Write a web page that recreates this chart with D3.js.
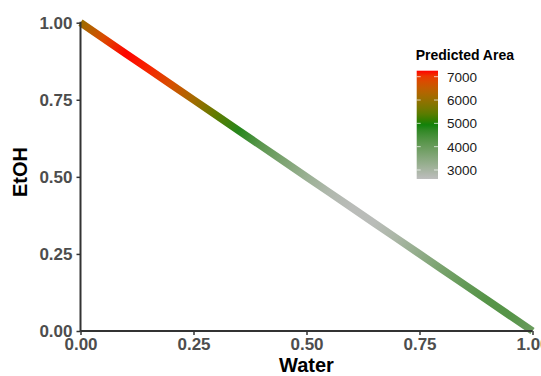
<!DOCTYPE html>
<html>
<head>
<meta charset="utf-8">
<script src="https://cdn.jsdelivr.net/npm/d3@7"></script>
<style>
  html, body { margin: 0; padding: 0; background: #fff; }
  svg { display: block; }
  text { font-family: "Liberation Sans", Arial, sans-serif; }
</style>
</head>
<body>
<svg id="chart" width="541" height="376"></svg>
<script>
// ---- data ----
const water = [0.00, 0.05, 0.10, 0.15, 0.20, 0.25, 0.30, 0.35, 0.40, 0.45, 0.50,
               0.55, 0.60, 0.65, 0.70, 0.75, 0.80, 0.85, 0.90, 0.95, 1.00];
const predictedArea = [6050, 6800, 7250, 7150, 6750, 6150, 5450, 4800, 4150, 3650, 3200,
                       2850, 2680, 2700, 2950, 3350, 3750, 4050, 4250, 4250, 3950];
const axisTicks = [0, 0.25, 0.5, 0.75, 1];
const axisTickLabels = ["0.00", "0.25", "0.50", "0.75", "1.00"];
const legendTicks = [3000, 4000, 5000, 6000, 7000];
const colourStops = [2614, 5000, 7257];
const colourRange = ["#bebebe", "#008000", "#ff0000"];

// ---- layout ----
const svg = d3.select("#chart");
const x = d3.scaleLinear().domain([0, 1]).range([80.5, 532.5]);
const y = d3.scaleLinear().domain([0, 1]).range([331, 22.7]);
const colour = d3.scaleLinear().domain(colourStops).range(colourRange).interpolate(d3.interpolateLab);

const defs = svg.append("defs");

// gradient along the mixture line
const lineGrad = defs.append("linearGradient")
  .attr("id", "lineGrad")
  .attr("gradientUnits", "userSpaceOnUse")
  .attr("x1", x(0)).attr("y1", y(1))
  .attr("x2", x(1)).attr("y2", y(0));
lineGrad.selectAll("stop").data(water).join("stop")
  .attr("offset", d => d)
  .attr("stop-color", (d, i) => colour(predictedArea[i]));

// line: EtOH = 1 - Water
const pts = water.map(w => [x(w), y(1 - w)]);
svg.append("path")
  .attr("d", d3.line()(pts))
  .attr("fill", "none")
  .attr("stroke", "url(#lineGrad)")
  .attr("stroke-width", 7.5)
  .attr("stroke-linecap", "butt");

// axes
const axisColour = "#333333";
const xAxis = d3.axisBottom(x).tickValues(axisTicks)
  .tickFormat((d, i) => axisTickLabels[i]).tickSize(4).tickPadding(3);
const yAxis = d3.axisLeft(y).tickValues(axisTicks)
  .tickFormat((d, i) => axisTickLabels[i]).tickSize(4).tickPadding(4);

const gx = svg.append("g").attr("transform", `translate(0,${y(0)})`).call(xAxis);
const gy = svg.append("g").attr("transform", `translate(${x(0)},0)`).call(yAxis);
[gx, gy].forEach(g => {
  g.select(".domain").attr("stroke", axisColour).attr("stroke-width", 2);
  g.selectAll(".tick line").attr("stroke", axisColour).attr("stroke-width", 1.5);
  g.selectAll(".tick text")
    .attr("fill", "#4d4d4d")
    .attr("font-size", 17)
    .attr("font-weight", "bold")
    .attr("font-family", "'Liberation Sans', Arial, sans-serif");
});
gx.select(".domain").attr("d", `M${x(0)},0H${x(1)}`);
gy.select(".domain").attr("d", `M0,${y(0)}V${y(1) - 1}`);

// axis titles
svg.append("text")
  .attr("x", (x(0) + x(1)) / 2).attr("y", 372)
  .attr("text-anchor", "middle")
  .attr("font-size", 20).attr("font-weight", "bold").attr("fill", "#000")
  .text("Water");
svg.append("text")
  .attr("transform", `translate(27,172) rotate(-90)`)
  .attr("text-anchor", "middle")
  .attr("font-size", 20).attr("font-weight", "bold").attr("fill", "#000")
  .text("EtOH");

// legend
const lg = svg.append("g");
const ly = d3.scaleLinear().domain([colourStops[0], colourStops[2]]).range([179, 70.7]);
const barX = 416.7, barW = 21.3;
const legGrad = defs.append("linearGradient")
  .attr("id", "legGrad")
  .attr("gradientUnits", "userSpaceOnUse")
  .attr("x1", 0).attr("y1", ly(colourStops[0]))
  .attr("x2", 0).attr("y2", ly(colourStops[2]));
const legSamples = d3.range(0, 1.0001, 0.05);
legGrad.selectAll("stop").data(legSamples).join("stop")
  .attr("offset", d => d)
  .attr("stop-color", d => colour(colourStops[0] + d * (colourStops[2] - colourStops[0])));

lg.append("text")
  .attr("x", barX - 1).attr("y", 60)
  .attr("font-size", 14).attr("font-weight", "bold").attr("fill", "#000")
  .text("Predicted Area");
lg.append("rect")
  .attr("x", barX).attr("y", ly(colourStops[2]))
  .attr("width", barW).attr("height", ly(colourStops[0]) - ly(colourStops[2]))
  .attr("fill", "url(#legGrad)");
lg.selectAll(".lt").data(legendTicks).join("g").each(function (d) {
  const g = d3.select(this);
  g.append("line").attr("x1", barX).attr("x2", barX + 4)
    .attr("y1", ly(d)).attr("y2", ly(d)).attr("stroke", "#fff").attr("stroke-opacity", 0.7);
  g.append("line").attr("x1", barX + barW - 4).attr("x2", barX + barW)
    .attr("y1", ly(d)).attr("y2", ly(d)).attr("stroke", "#fff").attr("stroke-opacity", 0.7);
  g.append("text").attr("x", barX + barW + 9).attr("y", ly(d))
    .attr("dy", "0.36em").attr("font-size", 13.5).attr("fill", "#1a1a1a").text(d);
});
</script>
</body>
</html>
